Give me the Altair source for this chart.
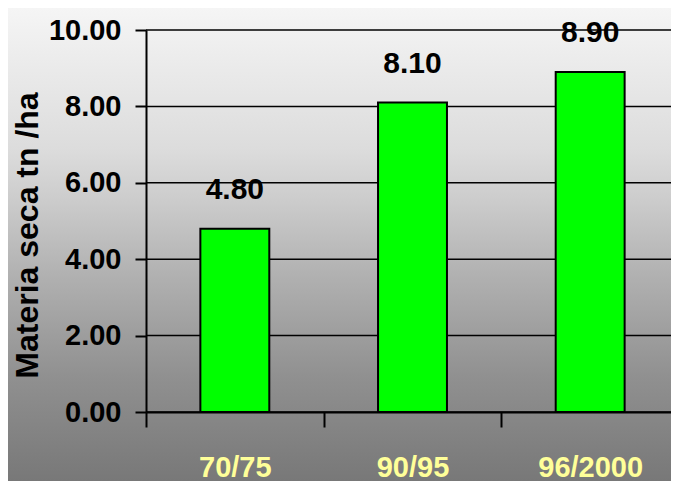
import altair as alt
import pandas as pd

# ---- data ----
periods = ["70/75", "90/95", "96/2000"]
values = [4.80, 8.10, 8.90]
y_ticks = [0, 2, 4, 6, 8, 10]

df = pd.DataFrame({"periodo": periods, "valor": values})
grid_df = pd.DataFrame({"t": y_ticks})
bg_df = pd.DataFrame({"k": [0]})

# ---- layout ----
W, H = 533, 382
PL, PT, PB, PR = 138, 22, 69, -8

FONT = "Liberation Sans, Arial, Helvetica, sans-serif"

yscale = alt.Scale(domain=[0, 10], nice=False, zero=True)
xscale = alt.Scale(domain=periods, paddingInner=0, paddingOuter=0)

y_axis = alt.Axis(
    values=y_ticks, format=".2f", grid=False, zindex=1,
    title="Materia seca tn /ha",
    titleFont=FONT, titleFontSize=32, titleFontWeight="bold",
    titleColor="black", titleAngle=-90, titleAlign="center",
    titleBaseline="middle", titleX=-119, titleY=205,
    labelFont=FONT, labelFontSize=29, labelFontWeight="bold",
    labelColor="black", labelPadding=14, tickSize=11,
    tickWidth=2, tickColor="black", domainColor="black",
    domainWidth=2,
)

x_axis = alt.Axis(
    title=None, labelAngle=0, tickBand="extent", zindex=1,
    labelColor="#ffff99", labelFont=FONT, labelFontSize=29,
    labelFontWeight="bold", labelBaseline="alphabetic",
    labelPadding=49, tickSize=15, tickWidth=2, tickColor="black",
    domainColor="black", domainWidth=2, grid=False,
)

bg = alt.Chart(bg_df).mark_rect(
    fill=alt.Gradient(
        gradient="linear",
        x1=0, x2=0, y1=0, y2=1,
        stops=[
            alt.GradientStop(offset=0.0, color="#f5f5f5"),
            alt.GradientStop(offset=0.30, color="#dcdcdc"),
            alt.GradientStop(offset=0.40, color="#cdcdcd"),
            alt.GradientStop(offset=0.57, color="#b0b0b0"),
            alt.GradientStop(offset=0.78, color="#909090"),
            alt.GradientStop(offset=1.0, color="#787878"),
        ],
    ),
    strokeWidth=0,
).encode(
    x=alt.value(-PL), x2=alt.value(W + 10),
    y=alt.value(-PT), y2=alt.value(H + PB),
)

grid = alt.Chart(grid_df).mark_rule(color="black", strokeWidth=1.5).encode(
    y=alt.Y("t:Q", scale=yscale, axis=y_axis),
)

bars = alt.Chart(df).mark_bar(
    color="#00ff00", stroke="black", strokeWidth=2,
    width=alt.RelativeBandSize(0.388),
).encode(
    x=alt.X("periodo:N", sort=periods, scale=xscale, axis=x_axis),
    y=alt.Y("valor:Q", scale=yscale, axis=y_axis),
)

text = alt.Chart(df).mark_text(
    dy=-30, baseline="alphabetic", align="center",
    font=FONT, fontSize=30, fontWeight="bold", color="black",
).encode(
    x=alt.X("periodo:N", sort=periods, scale=xscale, axis=x_axis),
    y=alt.Y("valor:Q", scale=yscale, axis=y_axis),
    text=alt.Text("valor:Q", format=".2f"),
)

chart = alt.layer(bg, grid, bars, text).properties(
    width=W, height=H,
    autosize=alt.AutoSizeParams(type="none"),
    padding={"left": PL, "top": PT, "right": PR, "bottom": PB},
    background="#f5f5f5",
).configure_view(strokeWidth=0)

chart.save("out.html", embed_options={"renderer": "svg", "actions": False})
